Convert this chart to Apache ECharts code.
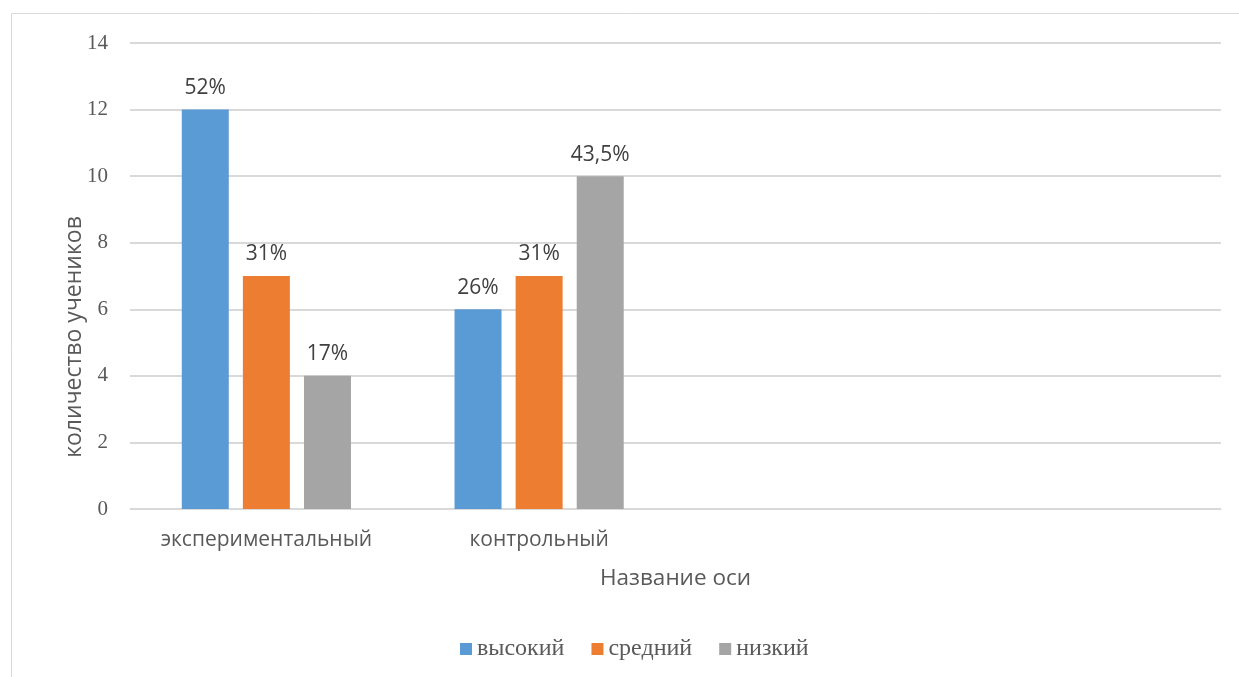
<!DOCTYPE html>
<html><head><meta charset="utf-8">
<script src="https://cdn.jsdelivr.net/npm/echarts@6/dist/echarts.min.js"></script>
<style>html,body{margin:0;padding:0;background:#fff}#c{width:1239px;height:677px}</style>
</head><body><div id="c"></div>
<script>
const categories = ['экспериментальный', 'контрольный', '', ''];
const seriesNames = ['высокий', 'средний', 'низкий'];
const high = [12, 6, null, null];
const mid = [7, 7, null, null];
const low = [4, 10, null, null];
const highLabels = ['52%', '26%', '', ''];
const midLabels = ['31%', '31%', '', ''];
const lowLabels = ['17%', '43,5%', '', ''];
const yTicks = [0, 2, 4, 6, 8, 10, 12, 14];
const colors = ['#5B9BD5', '#ED7D31', '#A5A5A5'];

const sans = '"Open Sans", "Noto Sans", sans-serif';
const serif = '"Liberation Serif", "DejaVu Serif", serif';

function mk(name, data, labels, color) {
  return {
    name: name, type: 'bar', data: data, barWidth: 47, barGap: '30%',
    itemStyle: { color: color },
    label: { show: true, position: 'top', distance: 11, color: '#404040',
      fontFamily: sans, fontSize: 21,
      formatter: p => labels[p.dataIndex] },
    animation: false
  };
}

const chart = echarts.init(document.getElementById('c'), null, { renderer: 'canvas' });
chart.setOption({
  animation: false,
  color: colors,
  graphic: [{ type: 'rect', shape: { x: 11.5, y: 13.5, width: 1240, height: 700 },
    style: { fill: 'none', stroke: '#d9d9d9', lineWidth: 1 }, silent: true }],
  grid: { left: 130, right: 18, top: 43, bottom: 168, containLabel: false },
  xAxis: {
    type: 'category', data: categories,
    axisLine: { show: true, lineStyle: { color: '#d9d9d9', width: 1 } },
    axisTick: { show: false },
    axisLabel: { color: '#595959', fontFamily: sans, fontSize: 21, margin: 21, interval: 0 },
    name: 'Название оси', nameLocation: 'middle', nameGap: 58,
    nameTextStyle: { color: '#595959', fontFamily: sans, fontSize: 22.5 }
  },
  yAxis: {
    type: 'value', min: 0, max: 14, interval: 2,
    axisLine: { show: false }, axisTick: { show: false },
    splitLine: { lineStyle: { color: '#d9d9d9', width: 2 } },
    axisLabel: { color: '#595959', fontFamily: serif, fontSize: 21, margin: 22,
      formatter: v => yTicks.includes(v) ? String(v) : '' },
    name: 'количество учеников', nameLocation: 'middle', nameGap: 44, nameRotate: 90,
    nameMoveOverlap: false,
    nameTextStyle: { color: '#595959', fontFamily: sans, fontSize: 23, padding: [0, 122, 0, 0] }
  },
  legend: {
    bottom: 11, left: 455, itemWidth: 12, itemHeight: 12, itemGap: 27,
    icon: 'rect',
    textStyle: { color: '#595959', fontFamily: serif, fontSize: 24 },
    data: seriesNames
  },
  series: [
    mk(seriesNames[0], high, highLabels, colors[0]),
    mk(seriesNames[1], mid, midLabels, colors[1]),
    mk(seriesNames[2], low, lowLabels, colors[2])
  ]
});
</script></body></html>
